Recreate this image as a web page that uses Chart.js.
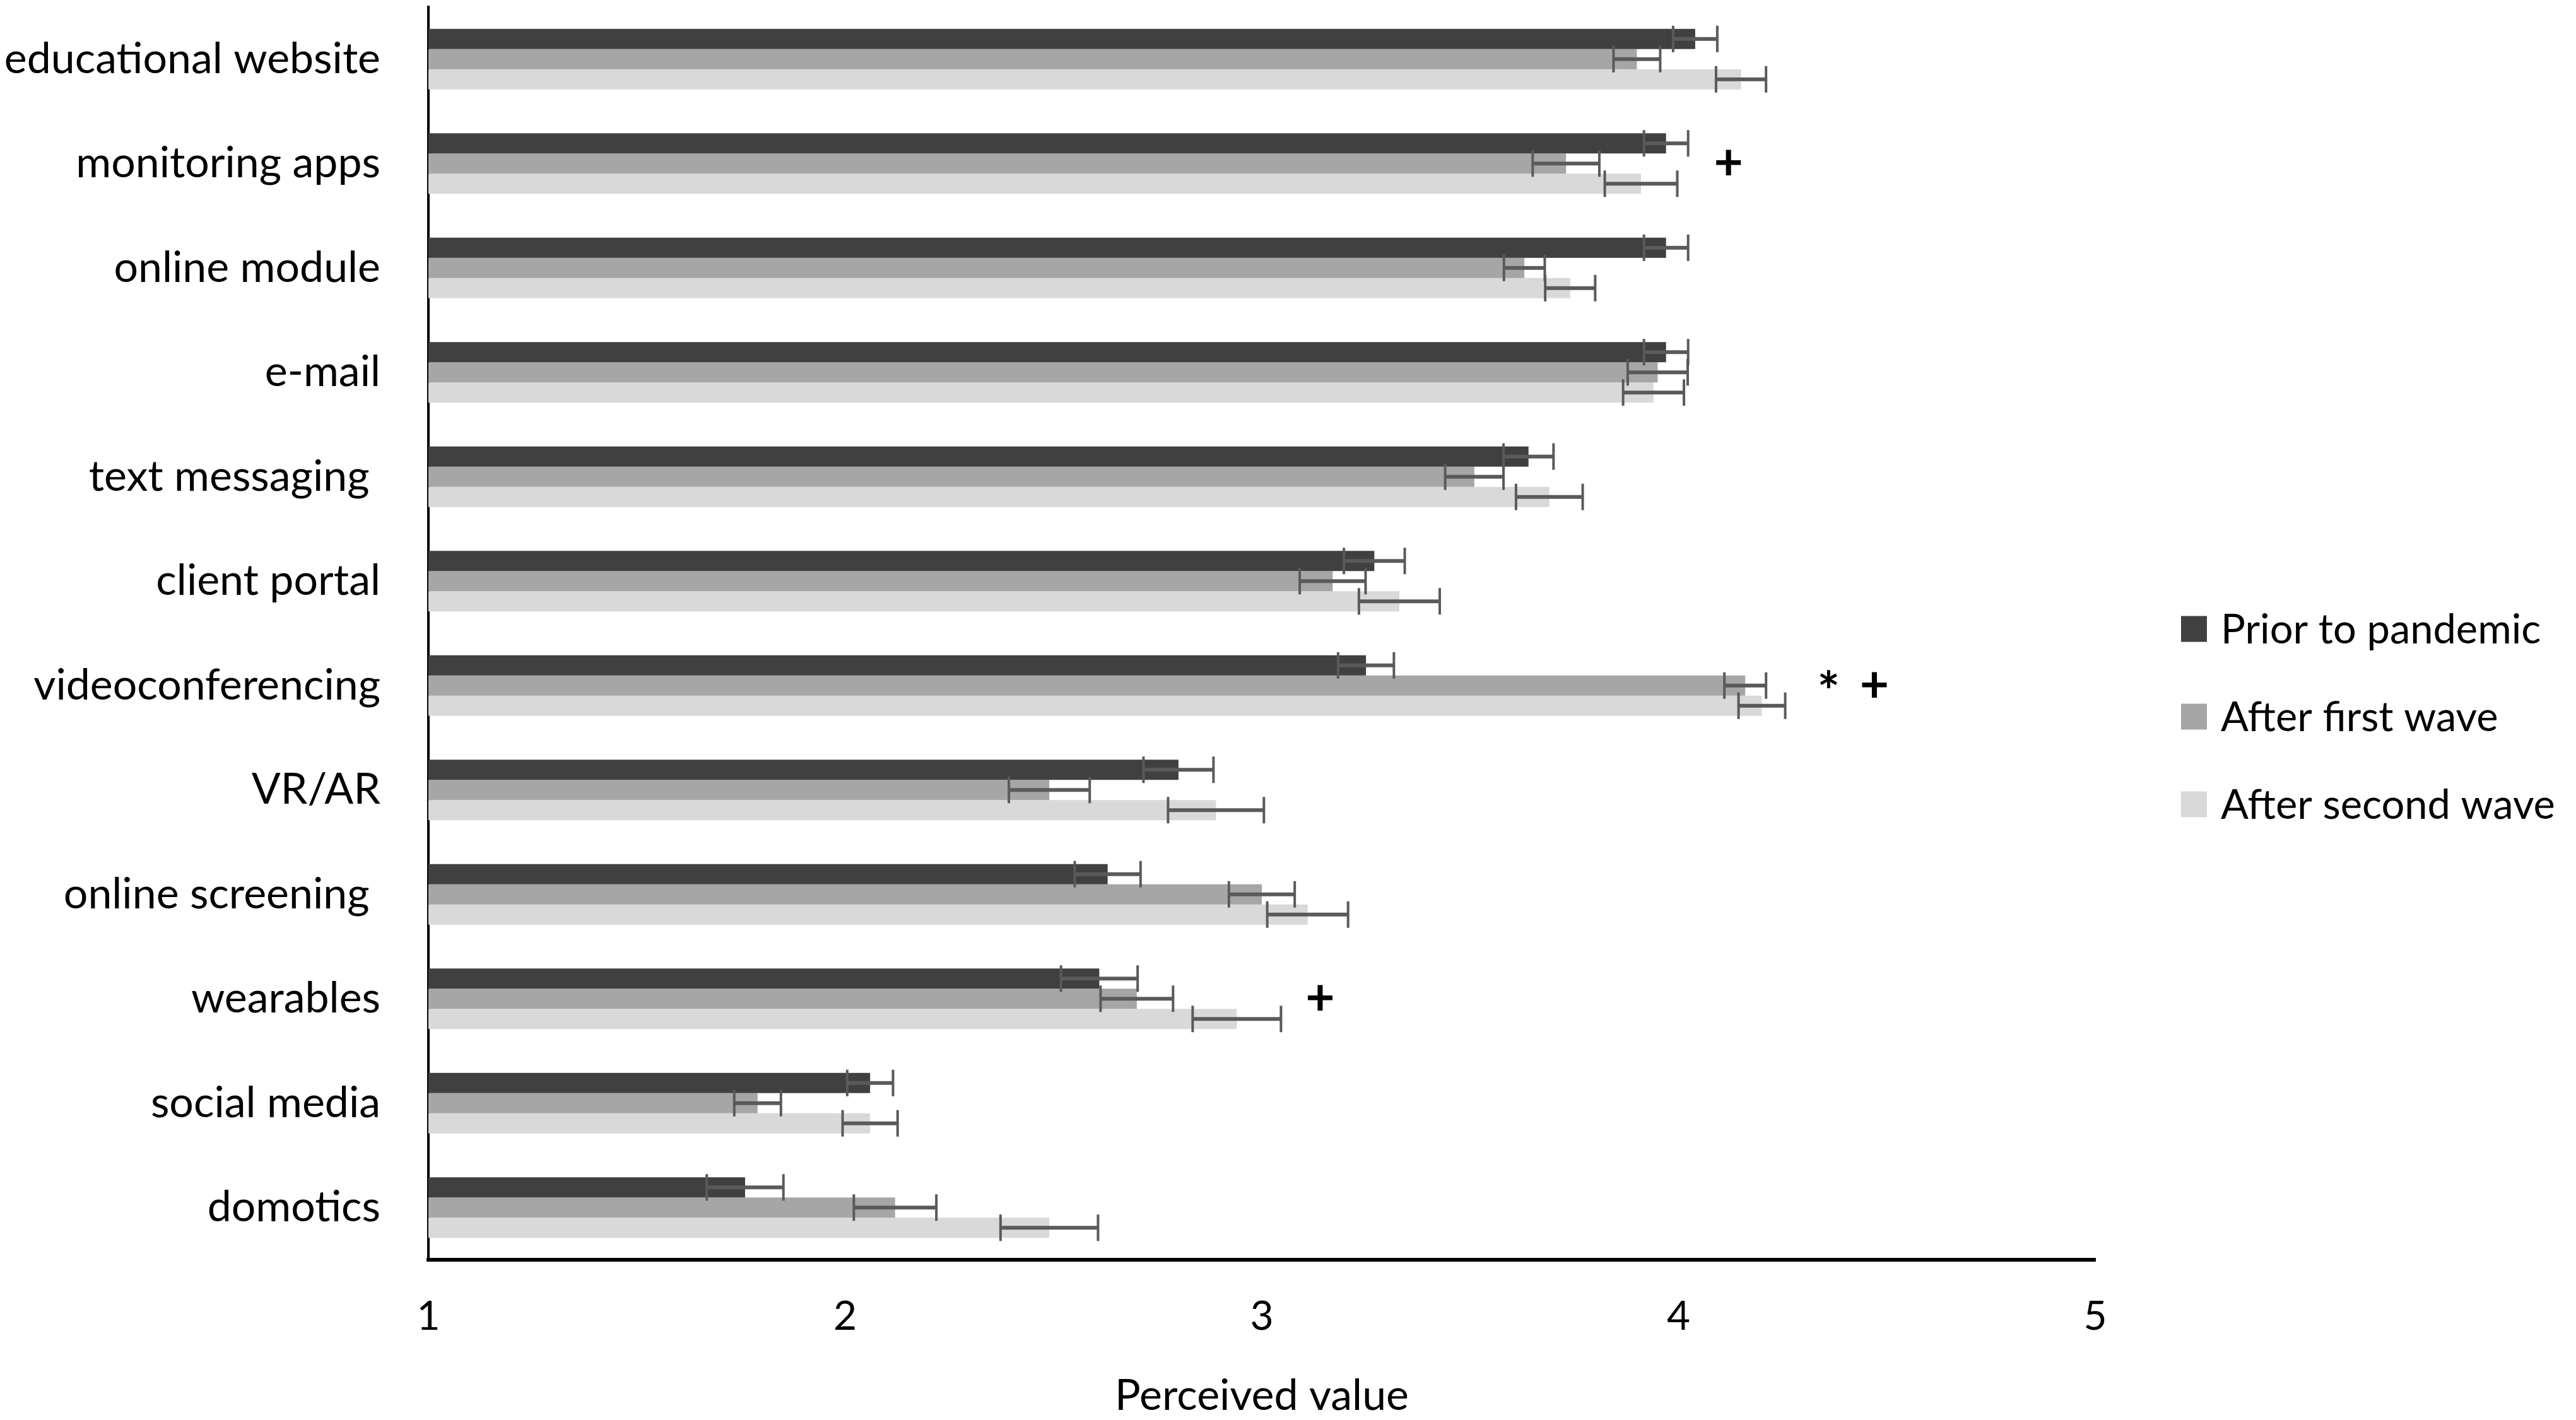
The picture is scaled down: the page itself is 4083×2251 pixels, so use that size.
<!DOCTYPE html>
<html>
<head>
<meta charset="utf-8">
<title>Perceived value of digital tools</title>
<script src="https://cdn.jsdelivr.net/npm/chart.js@4.4.1/dist/chart.umd.min.js"></script>
<style>
    html, body { margin: 0; padding: 0; background: #fff; }
    #wrap { width: 4083px; height: 2251px; }
</style>
</head>
<body>
<div id="wrap"><canvas id="chart" width="4083" height="2251"></canvas></div>
<script>
// Données
const categories = [
    'educational website', 'monitoring apps', 'online module', 'e-mail',
    'text messaging ', 'client portal', 'videoconferencing', 'VR/AR',
    'online screening ', 'wearables', 'social media', 'domotics'
];
const seriesNames = ['Prior to pandemic', 'After first wave', 'After second wave'];

const priorValues      = [4.04, 3.97, 3.97, 3.97, 3.64, 3.27, 3.25, 2.80, 2.63, 2.61, 2.06, 1.76];
const firstWaveValues  = [3.90, 3.73, 3.63, 3.95, 3.51, 3.17, 4.16, 2.49, 3.00, 2.70, 1.79, 2.12];
const secondWaveValues = [4.15, 3.91, 3.74, 3.94, 3.69, 3.33, 4.20, 2.89, 3.11, 2.94, 2.06, 2.49];

const priorErrors      = [0.053, 0.053, 0.053, 0.053, 0.060, 0.073, 0.067, 0.084, 0.079, 0.092, 0.055, 0.092];
const firstWaveErrors  = [0.056, 0.080, 0.049, 0.072, 0.070, 0.079, 0.050, 0.097, 0.079, 0.087, 0.056, 0.099];
const secondWaveErrors = [0.060, 0.087, 0.060, 0.073, 0.080, 0.097, 0.056, 0.115, 0.097, 0.106, 0.066, 0.117];

const xTicks = [1, 2, 3, 4, 5];

// Marqueurs de significativité (* et +)
const markerCategories = ['monitoring apps', 'videoconferencing', 'videoconferencing', 'wearables'];
const markerSymbols    = ['+', '*', '+', '+'];
const markerValues     = [4.12, 4.36, 4.47, 3.14];

const seriesColors = ['#404040', '#a6a6a6', '#d9d9d9'];
const FONT = 'Lato, "Open Sans", sans-serif';

// Barres d'erreur
const errorBarPlugin = {
    id: 'errorBars',
    afterDatasetsDraw(chart) {
        const ctx = chart.ctx;
        const xScale = chart.scales.x;
        const errors = [priorErrors, firstWaveErrors, secondWaveErrors];
        ctx.save();
        ctx.strokeStyle = '#5a5a5a';
        chart.data.datasets.forEach((ds, di) => {
            const meta = chart.getDatasetMeta(di);
            meta.data.forEach((bar, i) => {
                const v = ds.data[i];
                const e = errors[di][i];
                const x0 = xScale.getPixelForValue(v - e);
                const x1 = xScale.getPixelForValue(v + e);
                const y = bar.y;
                ctx.lineWidth = 6;
                ctx.beginPath();
                ctx.moveTo(x0, y);
                ctx.lineTo(x1, y);
                ctx.stroke();
                ctx.lineWidth = 4;
                ctx.beginPath();
                ctx.moveTo(x0, y - 21);
                ctx.lineTo(x0, y + 21);
                ctx.moveTo(x1, y - 21);
                ctx.lineTo(x1, y + 21);
                ctx.stroke();
            });
        });
        ctx.restore();
    }
};

// Symboles * et +
const markerPlugin = {
    id: 'markers',
    afterDatasetsDraw(chart) {
        const ctx = chart.ctx;
        const xScale = chart.scales.x;
        const yScale = chart.scales.y;
        ctx.save();
        ctx.fillStyle = '#000';
        ctx.textAlign = 'center';
        ctx.textBaseline = 'middle';
        markerSymbols.forEach((sym, i) => {
            const x = xScale.getPixelForValue(markerValues[i]);
            const y = yScale.getPixelForValue(categories.indexOf(markerCategories[i]));
            ctx.font = (sym === '*' ? 'bold 84px ' : 'bold 80px ') + FONT;
            ctx.fillText(sym, x, y + (sym === '*' ? 12 : 0));
        });
        ctx.restore();
    }
};

// Légende à droite
const legendPlugin = {
    id: 'sideLegend',
    afterDraw(chart) {
        const ctx = chart.ctx;
        const boxX = 3457, textX = 3520, firstY = 997, step = 139, box = 41;
        ctx.save();
        ctx.font = '65px ' + FONT;
        ctx.textAlign = 'left';
        ctx.textBaseline = 'middle';
        chart.data.datasets.forEach((ds, i) => {
            const cy = firstY + i * step;
            ctx.fillStyle = ds.backgroundColor;
            ctx.fillRect(boxX, cy - box / 2, box, box);
            ctx.fillStyle = '#000';
            ctx.fillText(ds.label, textX, cy + 2);
        });
        ctx.restore();
    }
};

const valueLists = [priorValues, firstWaveValues, secondWaveValues];

new Chart(document.getElementById('chart'), {
    type: 'bar',
    data: {
        labels: categories,
        datasets: seriesNames.map((name, i) => ({
            label: name,
            data: valueLists[i],
            backgroundColor: seriesColors[i],
            borderWidth: 0,
            base: 1,
            categoryPercentage: 0.58,
            barPercentage: 1.0
        }))
    },
    options: {
        indexAxis: 'y',
        responsive: false,
        devicePixelRatio: 1,
        animation: false,
        layout: { padding: { top: 11, right: 762, bottom: 0, left: 0 } },
        plugins: {
            legend: { display: false },
            tooltip: { enabled: false }
        },
        scales: {
            x: {
                min: 1,
                max: 5,
                afterBuildTicks: scale => { scale.ticks = xTicks.map(v => ({ value: v })); },
                ticks: { color: '#000', padding: 52, font: { family: FONT, size: 64 } },
                grid: { display: false, drawTicks: false },
                border: { display: true, color: '#000', width: 6 },
                title: {
                    display: true,
                    text: 'Perceived value',
                    color: '#000',
                    font: { family: FONT, size: 68, lineHeight: 1 },
                    padding: { top: 0, bottom: 4 }
                },
                afterFit: scale => {
                    scale.height = 254;
                    scale.paddingLeft = 0;
                    scale.paddingRight = 0;
                }
            },
            y: {
                ticks: { color: '#000', padding: 76, font: { family: FONT, size: 68 } },
                grid: { display: false, drawTicks: false },
                border: { display: true, color: '#000', width: 4 },
                afterFit: scale => {
                    scale.width = 679;
                    scale.paddingTop = 0;
                    scale.paddingBottom = 0;
                }
            }
        }
    },
    plugins: [errorBarPlugin, markerPlugin, legendPlugin]
});
</script>
</body>
</html>
